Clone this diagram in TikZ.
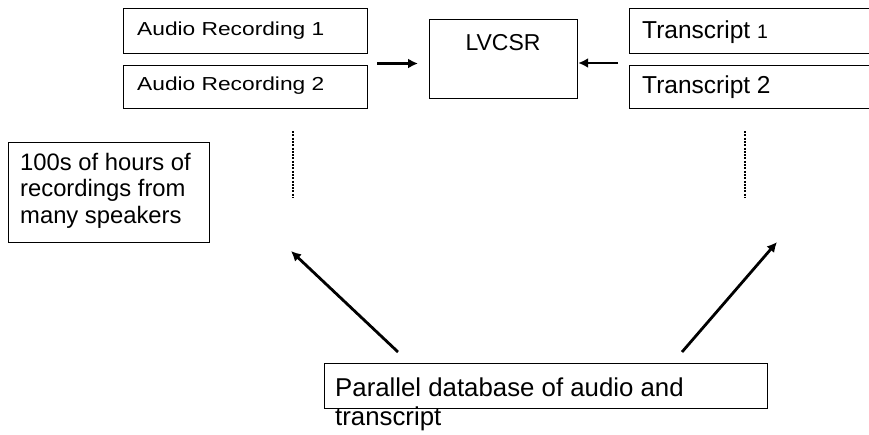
\documentclass[tikz,border=0pt]{standalone}
\usepackage{fontspec}
\setmainfont{Liberation Sans}
\usetikzlibrary{arrows.meta}
\tikzset{
  rectbox/.style={draw, line width=1.2pt, inner sep=0pt, anchor=north west},
  txtlabel/.style={inner sep=0pt, anchor=base west},
  arrowline/.style={line width=2.8pt, -{Latex[length=10pt,width=10pt]}},
  dotline/.style={line width=2.4pt, dash pattern=on 2pt off 1.3pt}
}
\newcommand{\fs}[1]{\fontsize{#1}{#1}\selectfont}
\begin{document}
\begin{tikzpicture}[x=1pt,y=-1pt]
\useasboundingbox (0,0) rectangle (869,434);
\clip (0,0) rectangle (869,434);
% boxes
\node[rectbox, minimum width=244pt, minimum height=45pt] (a1) at (123,8) {};
\node[rectbox, minimum width=244pt, minimum height=43pt] (a2) at (123,65) {};
\node[rectbox, minimum width=148pt, minimum height=79pt] (lv) at (429,19) {};
\node[rectbox, minimum width=260pt, minimum height=45pt] (t1) at (629,8) {};
\node[rectbox, minimum width=260pt, minimum height=43pt] (t2) at (629,65) {};
\node[rectbox, minimum width=201pt, minimum height=100pt] (hb) at (8,142) {};
\node[rectbox, minimum width=443pt, minimum height=45pt] (pb) at (324,363) {};
% texts
\node[txtlabel, font=\fs{18.8}] (a1t) at (137,35.7) {\scalebox{1.21}[1]{Audio Recording 1}};
\node[txtlabel, font=\fs{18.8}] (a2t) at (137,90) {\scalebox{1.21}[1]{Audio Recording 2}};
\node[inner sep=0pt, anchor=base, font=\fs{23}] (lvt) at (503,50) {LVCSR};
\node[txtlabel, font=\fs{24.5}] (t1t) at (642,38.3) {Transcript\hspace{7pt}{\fs{19.5}1}};
\node[txtlabel, font=\fs{24.5}] (t2t) at (642,93) {Transcript 2};
\node[txtlabel, font=\fs{23.8}] (hb1) at (20,170) {100s of hours of};
\node[txtlabel, font=\fs{23.8}] (hb2) at (20,196.5) {recordings from};
\node[txtlabel, font=\fs{23.8}] (hb3) at (20,223) {many speakers};
\node[txtlabel, font=\fs{25.8}] (pt1) at (335,396) {Parallel database of audio and};
\node[txtlabel, font=\fs{25.8}] (pt2) at (335,425) {transcript};
% dotted lines
\coordinate (dl1) at (293,131);
\coordinate (dl2) at (293,198);
\coordinate (dr1) at (745,131);
\coordinate (dr2) at (745,198);
\draw[dotline] (dl1) -- (dl2);
\draw[dotline] (dr1) -- (dr2);
% horizontal arrows
\coordinate (la) at (377,63.5);
\coordinate (ra) at (618,63);
\draw[arrowline, shorten >=11pt] (la) -- (lv.west |- la);
\draw[arrowline] (ra) -- (lv.east |- ra);
% diagonal arrows
\coordinate (pl) at (398,352);
\coordinate (ql) at (291,251);
\coordinate (pr) at (682,352);
\coordinate (qr) at (777,242);
\draw[arrowline] (pl) -- (ql);
\draw[arrowline] (pr) -- (qr);
\end{tikzpicture}
\end{document}
